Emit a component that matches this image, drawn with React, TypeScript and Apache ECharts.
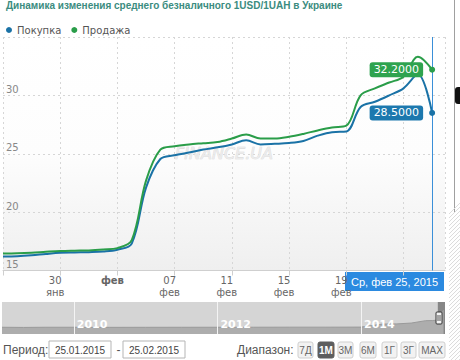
import React, { useEffect, useRef } from 'react';
import * as echarts from 'echarts';

const TITLE = 'Динамика изменения среднего безналичного 1USD/1UAH в Украине';
const seriesNames = ['Покупка', 'Продажа'];

// one point per day, 26.01.2015 .. 25.02.2015
const dates = [
  '26.01', '27.01', '28.01', '29.01', '30.01', '31.01', '01.02', '02.02', '03.02', '04.02',
  '05.02', '06.02', '07.02', '08.02', '09.02', '10.02', '11.02', '12.02', '13.02', '14.02',
  '15.02', '16.02', '17.02', '18.02', '19.02', '20.02', '21.02', '22.02', '23.02', '24.02', '25.02',
];
const buyValues = [
  16.2, 16.22, 16.3, 16.42, 16.52, 16.55, 16.57, 16.62, 16.78, 17.3,
  22.1, 24.55, 24.87, 25.1, 25.36, 25.55, 25.8, 26.15, 25.8, 25.85,
  25.92, 26.1, 26.55, 26.85, 26.9, 29.0, 29.45, 30.0, 30.6, 31.8, 28.5,
];
const sellValues = [
  16.45, 16.47, 16.52, 16.6, 16.67, 16.7, 16.72, 16.8, 16.92, 17.6,
  22.7, 25.35, 25.65, 25.8, 25.9, 26.0, 26.3, 26.65, 26.3, 26.3,
  26.45, 26.7, 27.0, 27.25, 27.4, 30.0, 30.6, 31.1, 31.6, 33.3, 32.2,
];
// x-axis tick labels, one per 4 days starting at 26.01 (the 23.02 one is hidden under the date box)
const xTickLabels = ['', '30\nянв', '{b|фев}', '07\nфев', '11\nфев', '15\nфев', '19\nфев', ''];
const tooltipText = 'Ср, фев 25, 2015';

// navigator history (year fraction, rate)
const navYears = [2009.0, 2009.3, 2009.6, 2010.0, 2010.5, 2011.0, 2011.5, 2012.0, 2012.5, 2013.0, 2013.5, 2014.0, 2014.15, 2014.3, 2014.5, 2014.7, 2014.9, 2015.0, 2015.07, 2015.15];
const navValues = [8.0, 7.8, 8.0, 8.0, 7.9, 7.95, 7.98, 8.0, 8.05, 8.1, 8.1, 8.2, 10.0, 11.8, 12.0, 13.0, 15.8, 16.0, 16.5, 28.5];
const navYearLabels = [2010, 2012, 2014];

const periodFrom = '25.01.2015';
const periodTo = '25.02.2015';
const rangeButtons = ['7Д', '1M', '3M', '6M', '1Г', '3Г', 'MAX'];
const rangeButtonX = [298, 318, 338, 360, 382, 401, 419];
const rangeButtonW = [15, 16, 15, 16, 15, 15, 26];
const activeButton = '1M';

const BLUE = '#1a72a6';
const GREEN = '#2a9d49';
const FONT = 'DejaVu Sans';
const SANS = 'Liberation Sans';

export default function App() {
  const ref = useRef<HTMLDivElement>(null);
  useEffect(() => {
    document.body.style.margin = '0';
    const chart = echarts.init(ref.current!, null, { renderer: 'svg' });
    const last = dates.length - 1;

    const graphics: any[] = [];
    // date box under the crosshair
    graphics.push({
      type: 'group', x: 345, y: 272, z: 100,
      children: [
        { type: 'rect', shape: { x: 0, y: 0, width: 99, height: 19 }, style: { fill: '#2b8ae0' } },
        { type: 'text', x: 49.5, y: 9.5, style: { text: tooltipText, fill: '#fff', font: `11px "${SANS}"`, align: 'center', verticalAlign: 'middle' } },
      ],
    });
    // watermark
    graphics.push({
      type: 'text', x: 224, y: 153, z: 1,
      style: { text: 'FINANCE.UA', fill: '#ebebeb', stroke: '#d6d6d6', lineWidth: 0.6, font: `italic 16px "${FONT}"`, align: 'center', verticalAlign: 'middle' },
    });
    // navigator handle
    graphics.push({ type: 'rect', x: 436, y: 312, z: 100, shape: { width: 6, height: 12, r: 1 }, style: { fill: '#f4f4f4', stroke: '#333', lineWidth: 1 } });
    graphics.push({ type: 'line', z: 101, shape: { x1: 438, y1: 315, x2: 438, y2: 321 }, style: { stroke: '#555' } });
    graphics.push({ type: 'line', z: 101, shape: { x1: 440, y1: 315, x2: 440, y2: 321 }, style: { stroke: '#555' } });
    // period inputs
    graphics.push({ type: 'text', x: 3, y: 350, style: { text: 'Период:', fill: '#555', font: `12px "${SANS}"`, verticalAlign: 'middle' } });
    [[49, periodFrom], [123, periodTo]].forEach(([x, t]) => {
      graphics.push({ type: 'rect', x: x as number, y: 341, shape: { width: 62, height: 17 }, style: { fill: '#fff', stroke: '#b5b5b5', lineWidth: 1 } });
      graphics.push({ type: 'text', x: (x as number) + 31, y: 350, style: { text: t as string, fill: '#444', font: `10px "${SANS}"`, align: 'center', verticalAlign: 'middle' } });
    });
    graphics.push({ type: 'text', x: 118.5, y: 350, style: { text: '-', fill: '#555', font: `12px "${SANS}"`, align: 'center', verticalAlign: 'middle' } });
    graphics.push({ type: 'text', x: 237, y: 350, style: { text: 'Диапазон:', fill: '#555', font: `12px "${SANS}"`, verticalAlign: 'middle' } });
    rangeButtons.forEach((b, i) => {
      const active = b === activeButton;
      graphics.push({ type: 'rect', x: rangeButtonX[i], y: 342, shape: { width: rangeButtonW[i], height: 16, r: 2 }, style: { fill: active ? '#5e5e5e' : '#f2f2f2', stroke: active ? '#5e5e5e' : '#cfcfcf', lineWidth: 1 } });
      graphics.push({ type: 'text', x: rangeButtonX[i] + rangeButtonW[i] / 2, y: 350, style: { text: b, fill: active ? '#fff' : '#666', font: `${active ? 'bold ' : ''}10px "${SANS}"`, align: 'center', verticalAlign: 'middle' } });
    });
    // right page edge decorations
    graphics.push({ type: 'line', shape: { x1: 454.5, y1: 0, x2: 454.5, y2: 212 }, style: { stroke: '#a0a0a0', lineWidth: 1 } });
    graphics.push({ type: 'rect', x: 455, y: 87, shape: { width: 8, height: 17, r: 3 }, style: { fill: '#111' } });
    for (let y = 214; y < 380; y += 4) {
      graphics.push({ type: 'line', shape: { x1: 449, y1: y, x2: 460, y2: y - 11 }, style: { stroke: '#dcdcdc', lineWidth: 1 } });
    }

    chart.setOption({
      animation: false,
      textStyle: { fontFamily: FONT },
      title: {
        text: TITLE, left: 1, top: -5,
        textStyle: { fontSize: 10, fontWeight: 'bold', color: '#3b8c80', fontFamily: SANS },
      },
      legend: {
        left: 1, top: 20, icon: 'circle', itemWidth: 6, itemHeight: 6, itemGap: 10,
        data: seriesNames,
        textStyle: { fontSize: 10, color: '#555' },
      },
      grid: [
        {
          left: 2, right: 15, top: 37, bottom: 89.5, show: true, borderWidth: 0,
          backgroundColor: new echarts.graphic.LinearGradient(0, 0, 0, 1, [
            { offset: 0, color: '#ffffff' }, { offset: 0.5, color: '#fdfdfd' }, { offset: 1, color: '#efefef' },
          ]),
        },
        { left: 2, right: 15, top: 302, bottom: 26, show: true, borderWidth: 0, backgroundColor: '#d5d5d5' },
      ],
      xAxis: [
        {
          type: 'value', gridIndex: 0, min: 0, max: 30.9, interval: 4,
          axisLine: { show: true, lineStyle: { color: '#cfcfcf' } },
          axisTick: { show: true, length: 5, lineStyle: { color: '#cfcfcf' } },
          splitLine: { show: true, lineStyle: { color: '#d6d6d6', type: [2, 3] } },
          axisLabel: {
            showMaxLabel: false, margin: 4, fontSize: 10, color: '#666', lineHeight: 12,
            padding: [0, 10, 0, 0],
            formatter: (v: number) => (v % 4 === 0 ? xTickLabels[v / 4] ?? '' : ''),
            rich: { b: { fontWeight: 'bold', fontSize: 10, color: '#666' } },
          },
        },
        {
          type: 'value', gridIndex: 1, min: 2009, max: 2015.17, z: 10,
          axisLine: { show: false },
          axisTick: { show: false, customValues: navYearLabels },
          splitLine: { show: true, lineStyle: { color: '#f4f4f4', width: 1 } },
          axisLabel: {
            inside: true, customValues: navYearLabels, align: 'left', verticalAlign: 'bottom', margin: 4,
            color: '#fff', fontWeight: 'bold', fontSize: 11, padding: [0, 0, 0, 3],
            formatter: (v: number) => String(v),
          },
        },
      ],
      yAxis: [
        {
          type: 'value', gridIndex: 0, min: 15, max: 35, interval: 5,
          axisLine: { show: false }, axisTick: { show: false },
          splitLine: { show: true, lineStyle: { color: '#d6d6d6', type: [2, 3] } },
          axisLabel: { inside: true, showMaxLabel: false, align: 'left', verticalAlign: 'bottom', margin: 3, padding: [0, 0, 1, 0], fontSize: 10, color: '#888' },
        },
        { type: 'value', gridIndex: 1, min: 0, max: 38, show: false },
      ],
      series: [
        {
          name: seriesNames[0], type: 'line', xAxisIndex: 0, yAxisIndex: 0,
          data: buyValues.map((v, i) => [i, v]),
          smooth: 0.35, symbol: 'none', color: BLUE, lineStyle: { width: 2, color: BLUE }, z: 3,
          markLine: {
            silent: true, symbol: ['none', 'none'], label: { show: false },
            lineStyle: { color: '#3a8fd8', width: 1, type: 'solid' },
            data: [{ xAxis: last }],
          },
          markPoint: {
            symbol: 'circle', symbolSize: 6, itemStyle: { color: BLUE },
            label: {
              show: true, position: 'left', distance: 6, color: '#fff', backgroundColor: '#1c78ae',
              padding: [2, 4], borderRadius: 3, fontSize: 11, fontFamily: FONT,
              formatter: (p: any) => Number(p.value).toFixed(4),
            },
            data: [{ coord: [last, buyValues[last]], value: buyValues[last] }],
          },
        },
        {
          name: seriesNames[1], type: 'line', xAxisIndex: 0, yAxisIndex: 0,
          data: sellValues.map((v, i) => [i, v]),
          smooth: 0.35, symbol: 'none', color: GREEN, lineStyle: { width: 2, color: GREEN }, z: 4,
          markPoint: {
            symbol: 'circle', symbolSize: 6, itemStyle: { color: GREEN },
            label: {
              show: true, position: 'left', distance: 6, color: '#fff', backgroundColor: '#2ea34f',
              padding: [2, 4], borderRadius: 3, fontSize: 11, fontFamily: FONT,
              formatter: (p: any) => Number(p.value).toFixed(4),
            },
            data: [{ coord: [last, sellValues[last]], value: sellValues[last] }],
          },
        },
        {
          name: 'nav', type: 'line', xAxisIndex: 1, yAxisIndex: 1, z: 1,
          data: navYears.map((y, i) => [y, navValues[i]]),
          symbol: 'none', lineStyle: { width: 1, color: '#9a9a9a' }, areaStyle: { color: '#adadad', opacity: 1 },
          markArea: {
            silent: true, itemStyle: { color: 'rgba(70,70,70,0.55)' },
            data: [[{ xAxis: navYears[navYears.length - 2] }, { xAxis: 2015.17 }]],
          },
        },
      ],
      graphic: graphics,
    });
    return () => chart.dispose();
  }, []);
  return <div ref={ref} style={{ width: 460, height: 360 }} />;
}
